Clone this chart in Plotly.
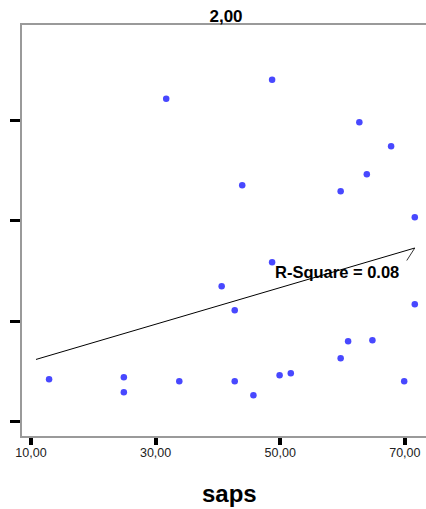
import plotly.graph_objects as go

# data
saps = [31.7, 48.7, 62.7, 67.8, 43.9, 63.9, 59.7, 71.6, 48.7, 40.6, 42.7, 71.6,
        60.9, 64.8, 59.7, 12.9, 24.9, 24.9, 33.8, 42.7, 45.7, 49.9, 51.7, 69.9]
yvals = [3.217, 3.406, 2.982, 2.743, 2.355, 2.464, 2.295, 2.036, 1.588, 1.349, 1.110, 1.169,
         0.801, 0.811, 0.631, 0.422, 0.442, 0.293, 0.402, 0.402, 0.263, 0.462, 0.482, 0.402]
fit_x = [10.8, 71.6]
fit_y = [0.62, 1.73]
x_ticks = [10, 30, 50, 70]
x_ticktext = ["10,00", "30,00", "50,00", "70,00"]
y_ticks = [0, 1, 2, 3]
panel_title = "2,00"
x_title = "saps"
r2_text = "R-Square = 0.08"

font = "Liberation Sans, Arial, sans-serif"

fig = go.Figure()
fig.add_trace(go.Scatter(x=fit_x, y=fit_y, mode="lines",
                         line=dict(color="black", width=1), hoverinfo="skip"))
fig.add_trace(go.Scatter(x=saps, y=yvals, mode="markers",
                         marker=dict(color="#4848ff", size=6.5, symbol="circle",
                                     line=dict(width=0))))

# R-square label and leader
fig.add_annotation(x=59.1, y=1.49, xref="x", yref="y", text="<b>" + r2_text + "</b>",
                   showarrow=False, font=dict(family=font, size=16.5, color="black"))
fig.add_annotation(x=fit_x[1], y=fit_y[1], xref="x", yref="y", text="",
                   showarrow=True, arrowhead=0, arrowwidth=0.8, arrowcolor="black",
                   ax=-9, ay=14, standoff=0, startstandoff=0)

# axis title
fig.add_annotation(x=(229 - 22) / 404, y=(436 - 493) / 411, xref="paper", yref="paper",
                   text="<b>" + x_title + "</b>", showarrow=False, yanchor="middle",
                   font=dict(family=font, size=24, color="black"))

fig.update_layout(
    width=426, height=509,
    margin=dict(l=22, r=0, t=25, b=73),
    paper_bgcolor="white", plot_bgcolor="white",
    showlegend=False,
    title=dict(text="<b>" + panel_title + "</b>", x=(226 - 22) / 404, xref="paper",
               xanchor="center", y=1 - 16 / 509, yref="container", yanchor="middle",
               font=dict(family=font, size=17, color="black")),
    xaxis=dict(range=[8.555, 73.4], tickvals=x_ticks, ticktext=x_ticktext,
               ticks="outside", ticklen=7, tickwidth=3.5, tickcolor="black",
               ticklabelstandoff=-3,
               showline=True, linecolor="#9a9a9a", linewidth=1.5, mirror=True,
               showgrid=False, zeroline=False,
               tickfont=dict(family=font, size=12.5, color="#222")),
    yaxis=dict(range=[-0.1424, 3.951], tickvals=y_ticks, ticktext=["", "", "", ""],
               ticks="outside", ticklen=10, tickwidth=3, tickcolor="black",
               showline=True, linecolor="#9a9a9a", linewidth=1.5, mirror=False,
               showgrid=False, zeroline=False),
)

fig.write_html("out.html")
